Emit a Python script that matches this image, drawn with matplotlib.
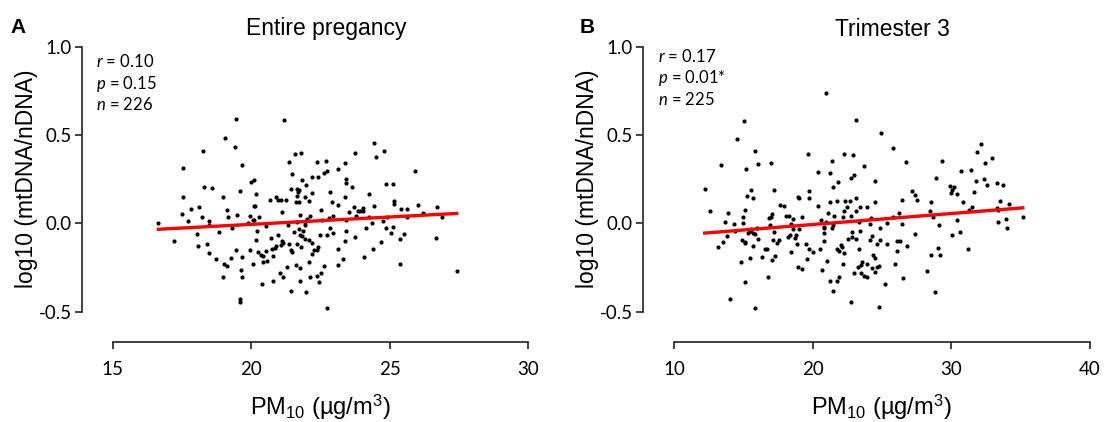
import numpy as np
import matplotlib
matplotlib.use('Agg')
import matplotlib.pyplot as plt

plt.rcParams['font.family'] = ['Liberation Sans', 'DejaVu Sans']
plt.rcParams['mathtext.fontset'] = 'custom'
plt.rcParams['mathtext.it'] = 'Lato:italic'
plt.rcParams['mathtext.rm'] = 'Lato'

# panel A: entire pregnancy, PM10 vs log10(mtDNA/nDNA)
pm10_entire = [19.44, 19.05, 19.41, 18.25, 19.68, 17.53, 19.98, 20.10, 18.30, 18.57,
               19.60, 17.55, 18.98, 18.11, 17.81, 19.13, 17.49, 18.22, 19.16, 19.50,
               19.94, 20.11, 16.65, 17.71, 18.46, 18.49, 20.07, 19.88, 19.30, 18.82,
               18.05, 17.21, 18.08, 18.39, 18.46, 19.46, 19.96, 18.72, 19.27, 19.65,
               19.02, 19.12, 20.05, 19.64, 18.98, 19.68, 19.58, 19.58, 21.19, 21.57,
               21.79, 23.75, 21.35, 22.37, 22.71, 23.37, 23.12, 22.62, 22.72, 21.46,
               22.19, 22.41, 23.42, 23.44, 21.84, 21.99, 23.64, 21.44, 21.65, 21.72,
               21.70, 22.20, 22.83, 20.17, 21.64, 21.96, 20.68, 20.88, 20.95, 21.06,
               21.24, 23.38, 21.60, 21.71, 22.07, 22.90, 20.13, 23.12, 23.70, 22.53,
               21.12, 23.54, 21.76, 22.13, 22.02, 22.97, 22.80, 20.27, 23.86, 20.10,
               23.44, 22.55, 21.34, 20.52, 21.65, 21.94, 21.93, 21.72, 21.87, 21.76,
               21.84, 21.95, 22.83, 21.54, 20.22, 22.95, 22.74, 22.49, 23.43, 20.96,
               20.71, 20.18, 23.75, 22.09, 22.18, 23.39, 21.10, 21.13, 21.06, 21.64,
               21.37, 20.89, 20.86, 20.74, 22.41, 22.37, 22.25, 21.79, 21.42, 21.49,
               20.25, 20.36, 20.41, 20.53, 20.79, 22.19, 23.15, 23.31, 20.41, 20.57,
               22.08, 21.62, 21.75, 21.28, 22.62, 23.14, 21.05, 21.14, 22.53, 22.36,
               22.12, 21.76, 22.43, 20.77, 20.38, 21.42, 21.98, 22.74, 24.42, 24.79,
               24.51, 25.91, 24.87, 25.12, 24.26, 25.15, 25.17, 24.04, 23.92, 24.02,
               24.42, 25.41, 25.61, 26.02, 26.70, 26.20, 23.78, 24.25, 24.92, 25.63,
               26.88, 24.76, 24.36, 24.14, 24.87, 25.12, 25.03, 25.50, 25.38, 26.66,
               24.67, 24.39, 24.08, 25.38, 27.42]
mt_entire = [0.590, 0.480, 0.430, 0.410, 0.330, 0.310, 0.235, 0.244, 0.204, 0.197,
             0.184, 0.150, 0.147, 0.094, 0.079, 0.073, 0.053, 0.036, 0.033, 0.049,
             0.039, 0.098, -0.001, 0.011, 0.011, -0.008, 0.019, -0.001, -0.029, -0.048,
             -0.058, -0.101, -0.128, -0.117, -0.168, -0.153, -0.149, -0.200, -0.195, -0.189,
             -0.229, -0.242, -0.231, -0.265, -0.303, -0.306, -0.428, -0.445, 0.586, 0.392,
             0.395, 0.398, 0.349, 0.347, 0.353, 0.339, 0.305, 0.286, 0.296, 0.278,
             0.260, 0.260, 0.250, 0.229, 0.244, 0.214, 0.207, 0.195, 0.195, 0.190,
             0.176, 0.172, 0.176, 0.163, 0.155, 0.150, 0.134, 0.147, 0.129, 0.129,
             0.133, 0.147, 0.121, 0.121, 0.127, 0.121, 0.098, 0.102, 0.093, 0.073,
             0.066, 0.062, 0.045, 0.041, 0.026, 0.043, 0.030, 0.036, 0.068, 0.016,
             0.020, 0.020, -0.008, -0.016, 0.009, 0.009, -0.008, -0.031, -0.042, -0.064,
             -0.073, -0.090, -0.027, -0.052, -0.041, -0.056, -0.069, -0.064, -0.046, -0.067,
             -0.082, -0.096, -0.078, -0.094, -0.109, -0.098, -0.098, -0.111, -0.121, -0.117,
             -0.118, -0.126, -0.139, -0.147, -0.134, -0.149, -0.151, -0.134, -0.149, -0.162,
             -0.160, -0.178, -0.183, -0.158, -0.183, -0.175, -0.143, -0.202, -0.217, -0.212,
             -0.217, -0.236, -0.253, -0.246, -0.244, -0.238, -0.280, -0.301, -0.280, -0.297,
             -0.303, -0.329, -0.331, -0.326, -0.343, -0.384, -0.386, -0.477, 0.452, 0.410,
             0.375, 0.296, 0.220, 0.221, 0.168, 0.127, 0.110, 0.087, 0.068, 0.070,
             0.098, 0.079, 0.079, 0.102, 0.093, 0.058, 0.039, 0.033, 0.037, 0.037,
             0.037, 0.011, 0.001, -0.025, -0.027, -0.021, -0.054, -0.061, -0.088, -0.084,
             -0.105, -0.143, -0.192, -0.232, -0.272]

# panel B: trimester 3
pm10_tri3 = [15.03, 14.57, 15.82, 13.39, 15.17, 16.04, 17.02, 12.21, 15.58, 17.22,
             15.25, 15.72, 17.67, 17.96, 12.62, 15.14, 13.87, 17.05, 16.83, 16.98,
             14.96, 18.10, 18.28, 13.68, 14.31, 14.96, 16.95, 15.58, 15.48, 15.72,
             15.34, 15.87, 16.01, 14.42, 17.19, 18.46, 13.80, 18.35, 18.20, 13.51,
             13.17, 14.88, 15.10, 15.14, 16.06, 17.14, 17.60, 17.45, 15.72, 16.59,
             16.69, 18.46, 15.51, 16.37, 17.27, 17.07, 14.83, 16.76, 15.10, 14.02,
             15.82, 20.99, 23.15, 24.94, 25.82, 19.67, 22.24, 22.94, 21.40, 26.74,
             23.69, 20.39, 21.28, 22.75, 23.01, 24.52, 21.85, 21.45, 19.76, 27.17,
             18.92, 19.04, 19.76, 23.11, 21.23, 21.76, 22.32, 22.72, 24.50, 26.47,
             20.39, 22.48, 23.40, 23.92, 21.13, 22.29, 23.15, 21.57, 22.17, 22.75,
             26.23, 18.61, 19.24, 20.63, 24.24, 25.80, 23.35, 24.16, 25.35, 26.47,
             20.95, 20.80, 20.85, 21.47, 21.42, 18.59, 19.00, 24.84, 20.82, 22.84,
             23.40, 18.78, 18.75, 24.29, 22.55, 22.86, 23.15, 20.82, 24.14, 24.84,
             26.11, 26.31, 22.07, 22.14, 18.87, 19.52, 24.67, 25.39, 26.83, 19.76,
             20.03, 20.56, 21.76, 21.93, 22.24, 23.35, 26.07, 24.38, 24.50, 19.60,
             21.04, 23.56, 23.49, 23.25, 23.92, 24.31, 24.79, 24.67, 22.19, 25.97,
             18.95, 19.21, 20.68, 22.97, 23.49, 23.73, 23.90, 24.52, 21.90, 21.74,
             21.23, 26.52, 25.27, 21.45, 22.77, 24.77, 32.20, 31.91, 32.94, 32.46,
             29.34, 30.69, 31.41, 28.95, 31.77, 32.37, 32.63, 33.33, 33.79, 29.91,
             30.25, 30.04, 29.99, 30.40, 31.65, 27.41, 27.53, 28.54, 30.85, 33.52,
             34.17, 31.52, 31.28, 33.33, 33.36, 28.45, 28.67, 30.40, 35.18, 33.95,
             33.36, 34.03, 29.12, 30.66, 30.06, 27.41, 29.07, 31.26, 28.59, 29.21,
             28.25, 28.81]
mt_tri3 = [0.581, 0.479, 0.407, 0.330, 0.309, 0.333, 0.341, 0.194, 0.190, 0.190,
           0.156, 0.144, 0.101, 0.097, 0.071, 0.076, 0.059, 0.050, 0.031, 0.035,
           0.033, 0.042, 0.044, 0.008, -0.003, -0.001, -0.012, -0.031, -0.046, -0.054,
           -0.054, -0.059, -0.027, -0.046, -0.048, -0.005, -0.071, -0.065, -0.078, -0.103,
           -0.133, -0.092, -0.103, -0.110, -0.090, -0.095, -0.097, -0.109, -0.131, -0.143,
           -0.148, -0.161, -0.195, -0.190, -0.184, -0.205, -0.220, -0.303, -0.331, -0.428,
           -0.477, 0.735, 0.582, 0.509, 0.426, 0.394, 0.390, 0.384, 0.354, 0.347,
           0.322, 0.290, 0.282, 0.258, 0.273, 0.241, 0.231, 0.203, 0.180, 0.180,
           0.150, 0.144, 0.144, 0.144, 0.118, 0.126, 0.126, 0.124, 0.122, 0.131,
           0.097, 0.092, 0.090, 0.093, 0.061, 0.067, 0.069, 0.042, 0.035, 0.044,
           0.058, 0.024, 0.033, 0.020, 0.031, 0.035, 0.010, -0.003, 0.003, -0.005,
           0.007, -0.027, -0.022, -0.010, -0.027, -0.031, -0.035, -0.025, -0.054, -0.048,
           -0.046, -0.069, -0.082, -0.071, -0.086, -0.080, -0.086, -0.099, -0.095, -0.092,
           -0.099, -0.099, -0.122, -0.135, -0.116, -0.118, -0.118, -0.118, -0.126, -0.146,
           -0.160, -0.146, -0.146, -0.154, -0.167, -0.146, -0.158, -0.178, -0.194, -0.201,
           -0.212, -0.220, -0.235, -0.245, -0.233, -0.250, -0.239, -0.245, -0.233, -0.229,
           -0.246, -0.260, -0.263, -0.279, -0.282, -0.297, -0.305, -0.273, -0.303, -0.324,
           -0.327, -0.307, -0.341, -0.382, -0.443, -0.471, 0.446, 0.405, 0.371, 0.339,
           0.350, 0.293, 0.301, 0.258, 0.241, 0.248, 0.218, 0.228, 0.218, 0.212,
           0.205, 0.188, 0.171, 0.167, 0.175, 0.161, 0.131, 0.118, 0.118, 0.124,
           0.107, 0.090, 0.078, 0.084, 0.073, 0.071, 0.035, 0.020, 0.035, 0.027,
           0.010, -0.024, -0.007, -0.050, -0.069, -0.061, -0.137, -0.146, -0.182, -0.177,
           -0.271, -0.386]

titles = ['Entire pregancy', 'Trimester 3']
letters = ['A', 'B']
stats_a = [r'$\mathit{r}$ = 0.10', r'$\mathit{p}$ = 0.15', r'$\mathit{n}$ = 226']
stats_b = [r'$\mathit{r}$ = 0.17', r'$\mathit{p}$ = 0.01*', r'$\mathit{n}$ = 225']
xticks_a = [15, 20, 25, 30]
xticks_b = [10, 20, 30, 40]
yticks = [-0.5, 0.0, 0.5, 1.0]
ytick_labels = ['-0.5', '0.0', '0.5', '1.0']
xlabel = r'PM$_{\mathregular{10}}$ (µg/m$^{\mathregular{3}}$)'
ylabel = 'log10 (mtDNA/nDNA)'

axis_col = '#222222'
W, H = 1104, 422

fig = plt.figure(figsize=(W / 100, H / 100), dpi=100)


def draw_panel(left_px, x, y, xticks, title, letter, stats, title_x, letter_x, stats_x, stats_y):
    ax = fig.add_axes([left_px / W, (H - 311.7) / H, 415.5 / W, (311.7 - 46.5) / H])

    # dots and the linear fit
    ax.scatter(x, y, s=9, color='black', linewidths=0, zorder=3)
    slope, icpt = np.polyfit(x, y, 1)
    xs = np.array([min(x), max(x)])
    ax.plot(xs, slope * xs + icpt, color='#ff0000', lw=2.4, zorder=4)

    ax.set_xlim(xticks[0], xticks[-1])
    ax.set_ylim(-0.5, 1.0)

    # prism style detached axes
    for s in ['top', 'right']:
        ax.spines[s].set_visible(False)
    for s in ['left', 'bottom']:
        ax.spines[s].set_position(('outward', 22))
        ax.spines[s].set_linewidth(1.2)
        ax.spines[s].set_color(axis_col)

    ax.set_xticks(xticks)
    ax.set_xticklabels([str(t) for t in xticks], fontfamily='Lato', fontsize=13.5)
    ax.set_yticks(yticks)
    ax.set_yticklabels(ytick_labels, fontfamily='Lato', fontsize=13.5)
    ax.tick_params(axis='both', direction='out', length=5, width=1.2, color=axis_col)
    ax.tick_params(axis='x', pad=8.5)
    ax.tick_params(axis='y', pad=2.5)

    ax.set_xlabel(xlabel, fontsize=17, labelpad=10.5)
    ax.set_ylabel(ylabel, fontsize=16.5)
    ax.yaxis.set_label_coords(-0.18, 0.5)

    fig.text(title_x / W, (H - 35.5) / H, title, fontsize=16.5, ha='center', va='baseline')
    fig.text(letter_x / W, (H - 33) / H, letter, fontsize=15, fontweight='bold',
             ha='left', va='baseline')
    for i, line in enumerate(stats):
        fig.text(stats_x / W, (H - stats_y - i * 21.5) / H, line, fontsize=12,
                 fontfamily='Lato', ha='left', va='baseline')
    return ax


draw_panel(112.7, pm10_entire, mt_entire, xticks_a, titles[0], letters[0], stats_a,
           326, 10.5, 96, 67)
draw_panel(674.0, pm10_tri3, mt_tri3, xticks_b, titles[1], letters[1], stats_b,
           892, 580, 658, 62)

fig.savefig('out.png', dpi=100)
